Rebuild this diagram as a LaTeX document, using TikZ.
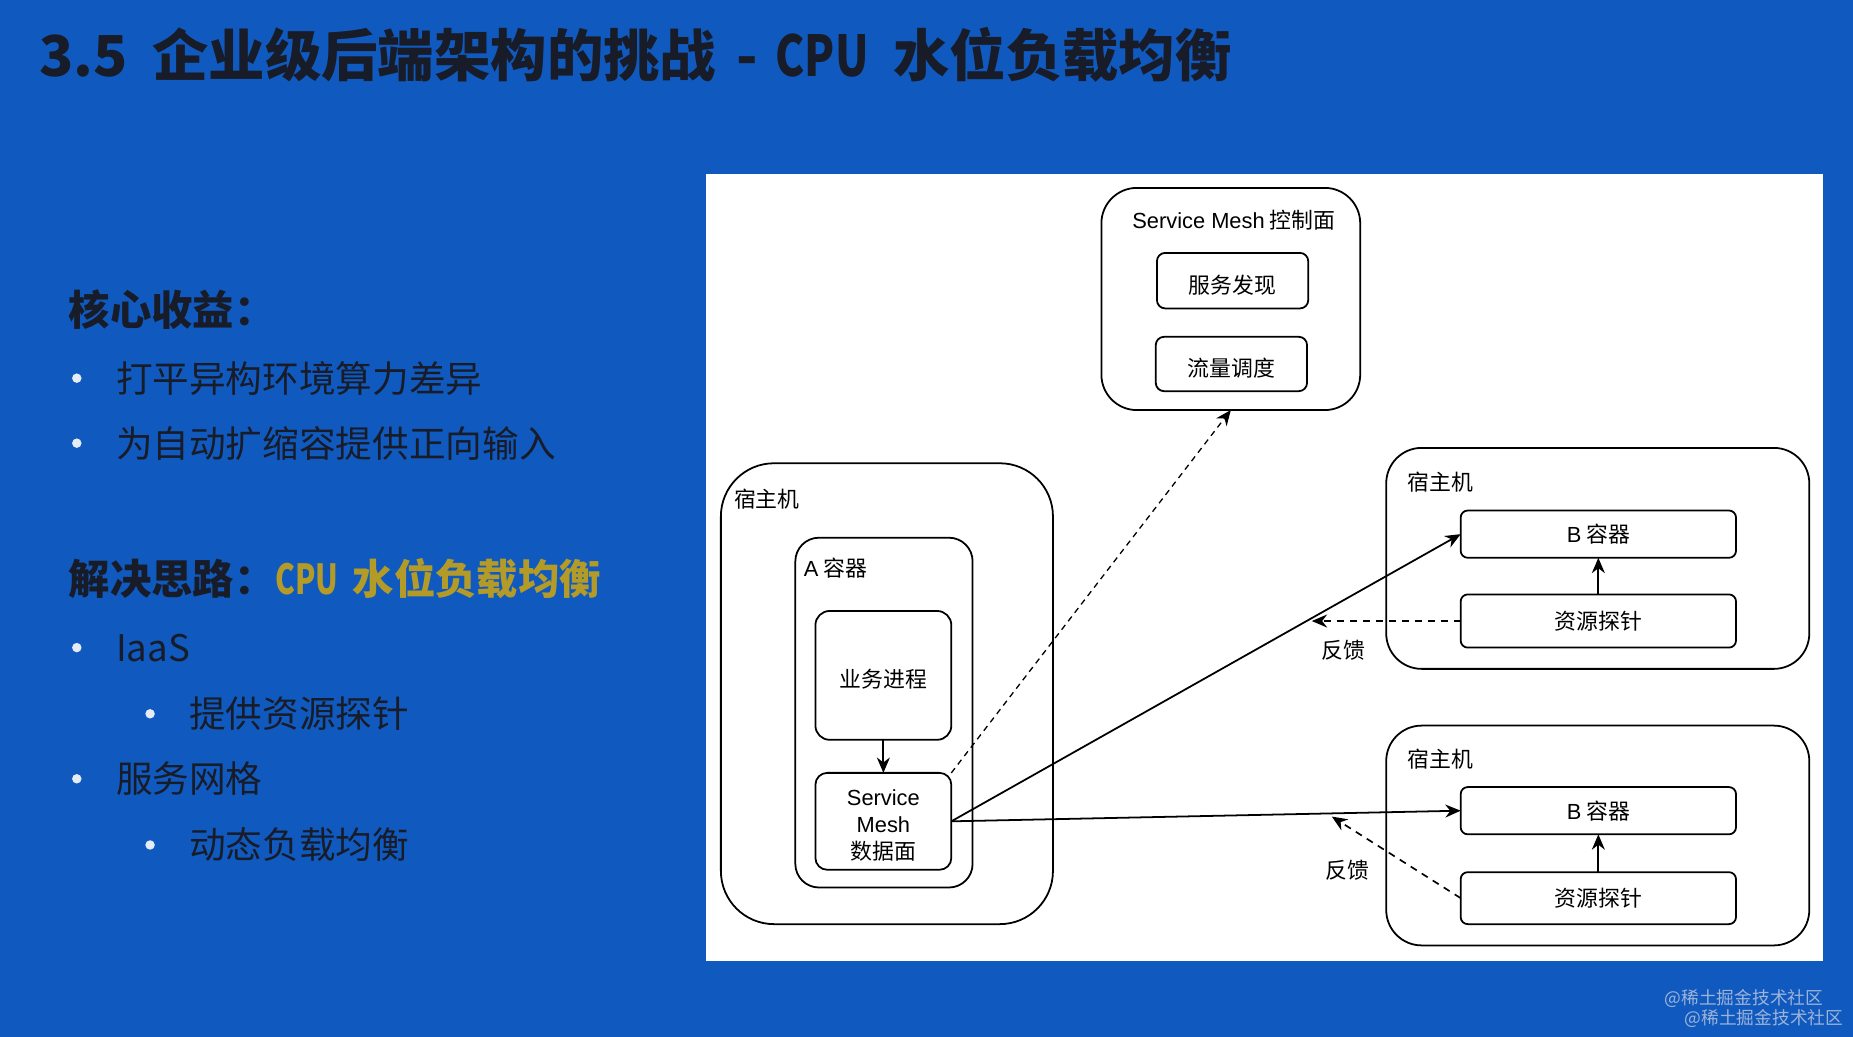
\documentclass[tikz,border=0pt]{standalone}
\usepackage{fontspec}
\setmainfont{Noto Sans CJK SC}
\newfontfamily\lat{Liberation Sans}
\usetikzlibrary{arrows.meta}
\definecolor{bg}{HTML}{105ABF}
\definecolor{ink}{HTML}{181C28}
\definecolor{gold}{HTML}{B49B28}
\definecolor{dotc}{HTML}{E6ECF6}
\definecolor{wm}{HTML}{9DB3D8}
\newcommand{\lowtxt}[1]{\raisebox{-3.5pt}[\height][\depth]{#1}}
\begin{document}
\begin{tikzpicture}[x=1pt,y=-1pt,
  dbox/.style={draw=black, line width=1.5pt, fill=white, rounded corners=#1,
    inner sep=0pt, outer sep=0pt, align=center,
    font=\fontsize{18.5}{22.5}\selectfont},
  dbox/.default=6pt,
  dlabel/.style={anchor=west, inner sep=0pt, font=\fontsize{18.5}{22.5}\selectfont},
  arr/.style={-{Stealth[length=13pt,width=11pt]}, line width=1.5pt},
  darr/.style={-{Stealth[length=13pt,width=11pt]}, line width=1.4pt, dash pattern=on 6pt off 5pt},
  tarr/.style={-{Stealth[length=13pt,width=11pt]}, line width=1.1pt, dash pattern=on 5pt off 4pt},
  slide/.style={anchor=west, inner sep=0pt, text=ink},
  bul/.style={circle, fill=dotc, inner sep=0pt, minimum size=8pt}
]
\useasboundingbox (0,0) rectangle (1568,877.5);
\fill[bg] (0,0) rectangle (1568,877.5);

% title
\node[slide, text=ink, font=\bfseries\fontsize{47.7}{50}\selectfont] (title) at (33,46)
  {3.5\hspace{21pt}企业级后端架构的挑战\hspace{17pt}-\hspace{15pt}\scalebox{.78}[1]{CPU}\hspace{21pt}水位负载均衡};

% left text
\node[slide, font=\bfseries\fontsize{35}{40}\selectfont] (h1) at (58,262) {核心收益：};
\node[bul] (d1) at (65,320) {};
\node[slide, font=\fontsize{31}{36}\selectfont] (t1) at (98,320) {打平异构环境算力差异};
\node[bul] (d2) at (65,375) {};
\node[slide, font=\fontsize{31}{36}\selectfont] (t2) at (98,375) {为自动扩缩容提供正向输入};
\node[slide, font=\bfseries\fontsize{35}{40}\selectfont] (h2) at (58,490)
  {解决思路：\textcolor{gold}{\scalebox{.72}[1]{CPU}\hspace{12pt}水位负载均衡}};
\node[bul] (d3) at (65,548) {};
\node[slide, font=\fontsize{31}{36}\selectfont] (t3) at (98,548) {IaaS};
\node[bul] (d4) at (127,604) {};
\node[slide, font=\fontsize{31}{36}\selectfont] (t4) at (160,604) {提供资源探针};
\node[bul] (d5) at (65,659) {};
\node[slide, font=\fontsize{31}{36}\selectfont] (t5) at (98,659) {服务网格};
\node[bul] (d6) at (127,715) {};
\node[slide, font=\fontsize{31}{36}\selectfont] (t6) at (160,715) {动态负载均衡};

% white panel
\fill[white] (597,147) rectangle (1543,813);

% control plane
\node[dbox=30pt, minimum width=219pt, minimum height=188pt] (ctrl) at (1041.5,253) {};
\node[inner sep=0pt, font=\fontsize{18.5}{22.5}\selectfont] (ctrlL) at (1044,186) {{\lat Service Mesh} 控制面};
\node[dbox=7pt, minimum width=128pt, minimum height=47pt] (sd) at (1043,237.5) {\lowtxt{服务发现}};
\node[dbox=7pt, minimum width=128pt, minimum height=46pt] (ll) at (1042,308) {\lowtxt{流量调度}};

% host A
\node[dbox=45pt, minimum width=281pt, minimum height=390pt] (hostA) at (750.5,587) {};
\node[dlabel] (hostAL) at (621,422) {宿主机};
\node[dbox=20pt, minimum width=150pt, minimum height=296pt] (contA) at (748,603) {};
\node[dlabel] (contAL) at (680,481) {{\lat A} 容器};
\node[dbox=12pt, minimum width=115pt, minimum height=109pt] (biz) at (747.5,571.5) {\lowtxt{业务进程}};
\node[dbox=10pt, minimum width=115pt, minimum height=82pt] (smd) at (747.5,695)
  {\lowtxt{\lat Service}\\\lowtxt{\lat Mesh}\\\lowtxt{数据面}};

% host 1
\node[dbox=30pt, minimum width=358pt, minimum height=187pt] (host1) at (1352,472.5) {};
\node[dlabel] (host1L) at (1191,408) {宿主机};
\node[dbox=6pt, minimum width=233pt, minimum height=40pt] (b1) at (1352.5,452) {{\lat B} 容器};
\node[dbox=6pt, minimum width=233pt, minimum height=45pt] (p1) at (1352.5,525.5) {资源探针};

% host 2
\node[dbox=30pt, minimum width=358pt, minimum height=186pt] (host2) at (1352,707) {};
\node[dlabel] (host2L) at (1191,642) {宿主机};
\node[dbox=6pt, minimum width=233pt, minimum height=40pt] (b2) at (1352.5,686) {{\lat B} 容器};
\node[dbox=6pt, minimum width=233pt, minimum height=44pt] (p2) at (1352.5,760) {资源探针};

% connectors
\draw[arr] (biz) -- (smd);
\draw[arr] (p1) -- (b1);
\draw[arr] (p2) -- (b2);
\draw[tarr] (smd.north east) -- (ctrl.south);
\draw[arr] (smd.east) -- (b1.west);
\draw[arr] (smd.east) -- (b2.west);
\coordinate (f1) at (1110,525.5);
\coordinate (f2) at (1127,691);
\draw[darr] (p1.west) -- (f1);
\draw[darr] (p2.west) -- (f2);
\node[inner sep=0pt, font=\fontsize{18.5}{22.5}\selectfont] (fb1) at (1137,550) {反馈};
\node[inner sep=0pt, font=\fontsize{18.5}{22.5}\selectfont] (fb2) at (1140,736) {反馈};

% site watermark
\node[anchor=east, inner sep=0pt, text=wm, font=\fontsize{15}{17}\selectfont] (wm1) at (1543,845) {@稀土掘金技术社区};
\node[anchor=east, inner sep=0pt, text=wm, font=\fontsize{15}{17}\selectfont] (wm2) at (1560,862) {@稀土掘金技术社区};
\end{tikzpicture}
\end{document}
